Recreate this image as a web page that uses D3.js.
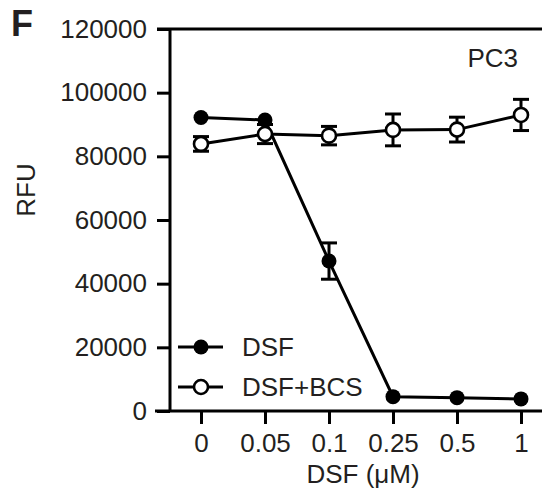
<!DOCTYPE html>
<html>
<head>
<meta charset="utf-8">
<script src="https://cdn.jsdelivr.net/npm/d3@7"></script>
<style>
  html, body { margin: 0; padding: 0; background: #fff; }
  svg { display: block; }
  text { font-family: "Liberation Sans", Arial, sans-serif; fill: #231f20; }
</style>
</head>
<body>
<svg id="chart" width="542" height="493"></svg>
<script>
// Doses of disulfiram (µM) shown on the categorical x axis
const doses = ["0", "0.05", "0.1", "0.25", "0.5", "1"];

// Mean fluorescence (RFU) and error for DSF alone
const dsfMean = [92200, 91400, 47100, 4500, 4200, 3800];
const dsfErr  = [600, 900, 5700, 300, 300, 300];

// Mean fluorescence (RFU) and error for DSF + BCS
const bcsMean = [83900, 87000, 86500, 88300, 88400, 93000];
const bcsErr  = [2300, 3000, 2900, 5000, 3900, 4900];

const yTicks = [0, 20000, 40000, 60000, 80000, 100000, 120000];

const svg = d3.select("#chart");
const W = 542, H = 493;
const plotLeft = 170, plotTop = 29, plotBottom = 411;
const fs = 26;

const x = d3.scalePoint().domain(doses).range([201, 521]);
const y = d3.scaleLinear().domain([0, 120000]).range([plotBottom, plotTop]);

const ink = "#000";
const lw = 3;

// Top frame line
svg.append("line")
  .attr("x1", plotLeft - 13).attr("x2", W)
  .attr("y1", plotTop).attr("y2", plotTop)
  .attr("stroke", ink).attr("stroke-width", lw);

// Y axis
const yAxis = svg.append("g")
  .attr("transform", `translate(${plotLeft},0)`)
  .call(d3.axisLeft(y).tickValues(yTicks).tickFormat(d3.format("d")).tickSize(13).tickPadding(10));
yAxis.select(".domain").attr("stroke", ink).attr("stroke-width", lw)
  .attr("d", `M0,${plotTop}V${plotBottom}`);
yAxis.selectAll(".tick line").attr("stroke", ink).attr("stroke-width", lw);
yAxis.selectAll(".tick text").attr("font-size", fs).attr("fill", "#231f20")
  .style("font-family", "'Liberation Sans', Arial, sans-serif");

// X axis baseline and ticks
const xAxis = svg.append("g")
  .attr("transform", `translate(0,${plotBottom})`)
  .call(d3.axisBottom(x).tickSize(13).tickPadding(10));
xAxis.select(".domain").attr("stroke", ink).attr("stroke-width", lw)
  .attr("d", `M${plotLeft - 15},0H${W}`);
xAxis.selectAll(".tick line").attr("stroke", ink).attr("stroke-width", lw);
xAxis.selectAll(".tick text").attr("font-size", fs).attr("fill", "#231f20")
  .style("font-family", "'Liberation Sans', Arial, sans-serif");

// Axis titles
svg.append("text")
  .attr("x", 363).attr("y", 483)
  .attr("text-anchor", "middle").attr("font-size", fs)
  .text("DSF (\u03BCM)");

svg.append("text")
  .attr("transform", "translate(35,190) rotate(-90)")
  .attr("text-anchor", "middle").attr("font-size", fs)
  .text("RFU");

// Panel letter and cell line label
svg.append("text")
  .attr("x", 11).attr("y", 36)
  .attr("font-size", 36).attr("font-weight", "bold")
  .text("F");

svg.append("text")
  .attr("x", 518).attr("y", 67)
  .attr("text-anchor", "end").attr("font-size", fs)
  .text("PC3");

const line = d3.line().x((d, i) => x(doses[i])).y(d => y(d));
const cap = 8;
const rFilled = 7.5;
const rOpen = 7;
const minBar = 5; // error bars shorter than this stay hidden under the marker

function drawSeries(means, errs, filled) {
  const g = svg.append("g");
  g.append("path")
    .datum(means)
    .attr("d", line)
    .attr("fill", "none").attr("stroke", ink).attr("stroke-width", lw);

  const rows = means.map((m, i) => ({ m, e: errs[i], k: doses[i] }))
    .filter(d => y(d.m) - y(d.m + d.e) > minBar);
  const eb = g.selectAll(".eb").data(rows).enter().append("g");
  eb.append("line")
    .attr("x1", d => x(d.k)).attr("x2", d => x(d.k))
    .attr("y1", d => y(d.m + d.e)).attr("y2", d => y(d.m - d.e))
    .attr("stroke", ink).attr("stroke-width", lw);
  [1, -1].forEach(s => {
    eb.append("line")
      .attr("x1", d => x(d.k) - cap).attr("x2", d => x(d.k) + cap)
      .attr("y1", d => y(d.m + s * d.e)).attr("y2", d => y(d.m + s * d.e))
      .attr("stroke", ink).attr("stroke-width", lw);
  });

  g.selectAll("circle").data(means).enter().append("circle")
    .attr("cx", (d, i) => x(doses[i]))
    .attr("cy", d => y(d))
    .attr("r", filled ? rFilled : rOpen)
    .attr("fill", filled ? ink : "#fff")
    .attr("stroke", ink).attr("stroke-width", filled ? 0 : 2.6);
}

drawSeries(dsfMean, dsfErr, true);
drawSeries(bcsMean, bcsErr, false);

// Legend
const legend = [
  { label: "DSF", filled: true, yPos: 347 },
  { label: "DSF+BCS", filled: false, yPos: 387 }
];
legend.forEach(l => {
  svg.append("line")
    .attr("x1", 178).attr("x2", 223)
    .attr("y1", l.yPos).attr("y2", l.yPos)
    .attr("stroke", ink).attr("stroke-width", lw);
  svg.append("circle")
    .attr("cx", 201).attr("cy", l.yPos)
    .attr("r", l.filled ? rFilled : rOpen)
    .attr("fill", l.filled ? ink : "#fff")
    .attr("stroke", ink).attr("stroke-width", l.filled ? 0 : 2.6);
  svg.append("text")
    .attr("x", 242).attr("y", l.yPos + 9.3)
    .attr("font-size", fs)
    .text(l.label);
});
</script>
</body>
</html>
